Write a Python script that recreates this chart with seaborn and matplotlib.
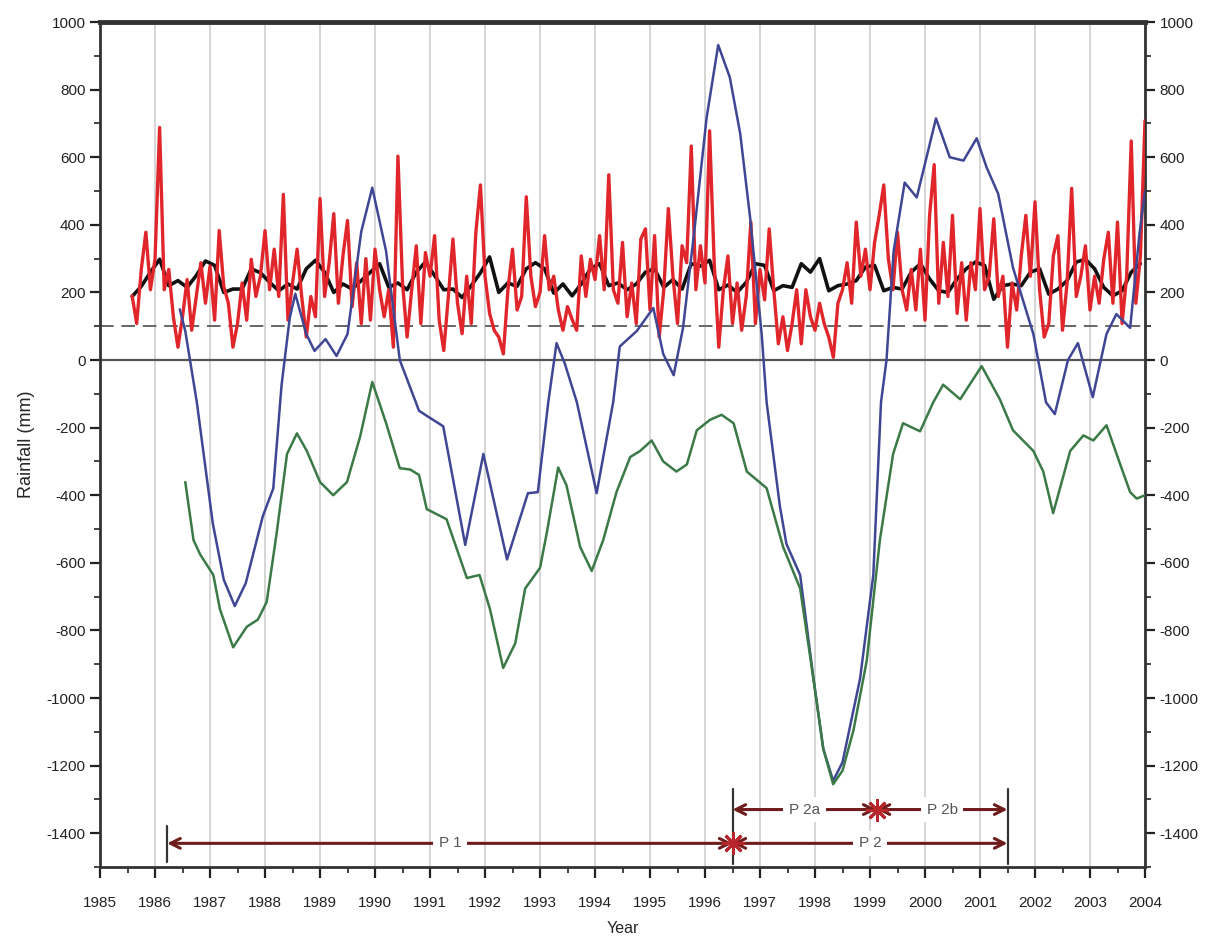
import numpy as np
import pandas as pd
import matplotlib
matplotlib.use("Agg")
import matplotlib.pyplot as plt
from matplotlib.ticker import MultipleLocator
import seaborn as sns

# Monthly rainfall (mm), Aug 1985 - Jan 2004
monthly_rain = [
    190, 108, 268, 378, 208, 298, 688, 208, 268, 128, 38, 128, 238, 88, 188, 288, 168, 278, 118, 383,
    218, 168, 38, 108, 228, 118, 298, 188, 248, 383, 208, 328, 188, 490, 118, 228, 328, 188, 68, 188,
    128, 478, 188, 288, 433, 168, 308, 413, 158, 288, 108,
    300, 118, 328, 208, 128, 208, 38, 603, 228, 68, 208, 338, 108, 318, 248, 368, 118, 28, 188, 358,
    168, 78, 248, 108, 378, 518, 248, 138, 88, 68, 18, 208, 328, 148, 188, 483, 248, 158, 200, 368,
    208, 248, 148, 88, 158, 120, 88, 308, 188, 298, 238, 368, 208, 548, 208, 168, 348, 128,
    228, 108, 358, 388, 148, 368, 68, 208, 448, 248, 108, 338, 288, 633, 208, 338, 228, 678, 288, 38,
    208, 308, 108, 228, 88, 188, 408, 108, 268, 178, 388, 208, 48, 128, 28, 108, 208, 48, 208, 128,
    88, 168, 108, 68, 8, 168, 208, 288, 168, 408, 248, 328, 208, 348, 428, 518,
    300, 208, 378, 208, 148, 268, 148, 328, 118, 428, 578, 168, 348, 188, 428, 138, 288, 118, 288, 208,
    448, 208, 248, 418, 188, 248, 38, 228, 148, 308, 428, 248, 468, 208, 68, 108, 308, 368, 88, 228,
    508, 188, 248, 338, 148, 248, 168, 298, 378, 168, 408, 108, 248, 648, 168, 308, 708,
]

# Mean rainfall (mm), bi-monthly steps from Aug 1985
mean_rain = [
    188, 218, 260, 298, 220, 235, 215, 250, 293, 280, 200, 210, 210, 270, 258, 230, 205, 225, 210, 270,
    295, 260, 200, 225, 210, 235,
    260, 285, 215, 228, 208, 260, 290, 250, 208, 210, 185, 220, 258, 305, 200, 228, 218, 270, 288, 270,
    198, 225, 190, 225, 270, 285, 220, 228, 208,
    225, 260, 270, 215, 238, 210, 285, 278, 295, 208, 222, 200, 230, 285, 280, 205, 220, 215, 285, 260,
    300, 205, 220, 225, 235, 275, 280, 205,
    215, 210, 260, 285, 240, 205, 200, 240, 270, 290, 280, 180, 220, 225, 220, 260, 270, 195, 210, 235,
    290, 298, 270, 215, 190, 205, 260, 285,
]

# Cumulative deviation curves
dev_a_year = [
    1986.45, 1986.55, 1986.76, 1987.05, 1987.25, 1987.45, 1987.65, 1987.96, 1988.15, 1988.30,
    1988.45, 1988.55, 1988.75, 1988.90, 1989.10, 1989.30, 1989.50, 1989.75, 1989.95, 1990.20,
    1990.45, 1990.80, 1990.94, 1991.24, 1991.64, 1991.97, 1992.40, 1992.78, 1992.96, 1993.15,
    1993.30, 1993.45, 1993.67, 1994.03, 1994.33, 1994.45, 1994.76, 1995.06, 1995.24, 1995.43,
    1995.60, 1995.80, 1996.03, 1996.24, 1996.45, 1996.64, 1996.82, 1997.03, 1997.12, 1997.36,
    1997.48, 1997.73, 1997.97, 1998.15, 1998.33, 1998.50, 1998.82, 1999.06, 1999.20, 1999.30,
    1999.43, 1999.63, 1999.85, 2000.20, 2000.45, 2000.70, 2000.94, 2001.12, 2001.33, 2001.60,
    2001.97, 2002.20, 2002.36, 2002.60, 2002.78, 2003.05, 2003.30, 2003.48, 2003.73, 2003.90,
    2004.00,
]
dev_a_val = [
    150, 86, -125, -483, -650, -728, -660, -462, -380, -75,
    125, 196, 77, 27, 62, 12, 77, 380, 510, 323,
    0, -150, -165, -196, -547, -278, -590, -394, -391, -125,
    50, -10, -125, -394, -125, 40, 86, 154, 18, -45,
    95, 374, 718, 932, 837, 670, 421, 77, -125, -431,
    -544, -636, -940, -1150, -1245, -1190, -942, -636, -125, 0,
    323, 525, 481, 715, 600, 590, 656, 570, 492, 273,
    77, -125, -160, 0, 50, -110, 77, 136, 95, 374,
    500,
]

dev_b_year = [
    1986.55, 1986.70, 1986.82, 1987.06, 1987.18, 1987.42, 1987.67, 1987.87, 1988.03, 1988.21,
    1988.40, 1988.58, 1988.76, 1989.00, 1989.24, 1989.49, 1989.73, 1989.95, 1990.20, 1990.45,
    1990.64, 1990.80, 1990.94, 1991.30, 1991.67, 1991.90, 1992.09, 1992.33, 1992.55, 1992.73,
    1993.00, 1993.12, 1993.33, 1993.48, 1993.73, 1993.94, 1994.15, 1994.39, 1994.64, 1994.82,
    1995.03, 1995.24, 1995.48, 1995.67, 1995.85, 1996.09, 1996.30, 1996.52, 1996.76, 1997.12,
    1997.42, 1997.73, 1997.97, 1998.15, 1998.33, 1998.50, 1998.70, 1998.94, 1999.18, 1999.42,
    1999.60, 1999.91, 2000.15, 2000.33, 2000.64, 2001.03, 2001.36, 2001.60, 2001.97, 2002.15,
    2002.33, 2002.64, 2002.88, 2003.06, 2003.30, 2003.55, 2003.73, 2003.85, 2004.00,
]
dev_b_val = [
    -361, -533, -575, -636, -737, -850, -789, -768, -716, -514,
    -278, -217, -269, -361, -400, -361, -226, -65, -186, -320,
    -324, -340, -441, -471, -645, -636, -737, -911, -838, -676,
    -615, -514, -318, -370, -553, -624, -532, -391, -287, -269,
    -238, -300, -330, -309, -208, -177, -162, -187, -330, -379,
    -553, -676, -942, -1150, -1255, -1215, -1095, -890, -532, -278,
    -187, -211, -125, -73, -116, -18, -116, -208, -269, -330,
    -453, -269, -223, -238, -193, -309, -391, -410, -400,
]

# Periods marked along the bottom
period_labels = ["P 1", "P 2", "P 2a", "P 2b"]
period_start = [1986.22, 1996.50, 1996.50, 1999.12]
period_end = [1996.50, 2001.50, 1999.12, 2001.50]
period_level = [-1430, -1430, -1330, -1330]


def decimal_year(dates):
    return dates.year + (dates.month - 1) / 12.0


monthly_df = pd.DataFrame({
    "year": decimal_year(pd.date_range("1985-08-01", periods=len(monthly_rain), freq="MS")),
    "rain": monthly_rain,
})
mean_df = pd.DataFrame({
    "year": decimal_year(pd.date_range("1985-08-01", periods=len(mean_rain), freq="2MS")),
    "rain": mean_rain,
})
dev_a_df = pd.DataFrame({"year": dev_a_year, "rain": dev_a_val})
dev_b_df = pd.DataFrame({"year": dev_b_year, "rain": dev_b_val})

sns.set_style("ticks")
plt.rcParams["font.family"] = ["Liberation Sans", "DejaVu Sans"]
plt.rcParams["axes.unicode_minus"] = False

fig = plt.figure(figsize=(12.11, 9.46), dpi=100)
ax = fig.add_axes([0.0826, 0.0835, 0.8629, 0.8932])

ax.axhline(0, color="#555555", lw=1.6, zorder=2)
ax.axhline(100, color="#666666", lw=1.4, ls=(0, (7, 4)), zorder=2)

sns.lineplot(data=mean_df, x="year", y="rain", ax=ax, color="#111111", lw=2.6,
             estimator=None, sort=False, zorder=3)
sns.lineplot(data=monthly_df, x="year", y="rain", ax=ax, color="#e0262b", lw=2.4,
             estimator=None, sort=False, zorder=4)
sns.lineplot(data=dev_a_df, x="year", y="rain", ax=ax, color="#3f4794", lw=1.8,
             estimator=None, sort=False, zorder=5)
sns.lineplot(data=dev_b_df, x="year", y="rain", ax=ax, color="#3b7a46", lw=1.8,
             estimator=None, sort=False, zorder=5)

# Period arrows
arrow_col = "#6e1c1c"
for lab, x0, x1, y in zip(period_labels, period_start, period_end, period_level):
    ax.annotate("", xy=(x0, y), xytext=(x1, y),
                arrowprops=dict(arrowstyle="<->,head_length=0.7,head_width=0.35",
                                color=arrow_col, lw=2.2, shrinkA=0, shrinkB=0),
                zorder=6)
    ax.text((x0 + x1) / 2, y, lab, ha="center", va="center", fontsize=11,
            color="#555555", zorder=7,
            bbox=dict(facecolor="white", edgecolor="none", pad=4))

# End bars and junction stars
ax.plot([period_start[0], period_start[0]], [-1485, -1380], color="#333333", lw=1.6, zorder=7)
ax.plot([period_end[0], period_end[0]], [-1490, -1270], color="#333333", lw=1.6, zorder=7)
ax.plot([period_end[1], period_end[1]], [-1490, -1270], color="#333333", lw=1.6, zorder=7)
ax.plot([period_start[3]], [period_level[3]], marker=(8, 2, 0), ms=16, mew=2.0,
        color="#b8262c", zorder=8, ls="none")
ax.plot([period_end[0]], [period_level[0]], marker=(8, 2, 0), ms=16, mew=2.0,
        color="#b8262c", zorder=8, ls="none")

ax.set_xlim(1985, 2004)
ax.set_ylim(-1500, 1000)
ax.xaxis.set_major_locator(MultipleLocator(1))
ax.xaxis.set_minor_locator(MultipleLocator(0.5))
ax.yaxis.set_major_locator(MultipleLocator(200))
ax.yaxis.set_minor_locator(MultipleLocator(100))
ax.set_xticks(range(1985, 2005))
ax.set_xticklabels([str(y) for y in range(1985, 2005)])

ax.grid(axis="x", which="major", color="#d2d2d2", lw=1.3)
ax.set_axisbelow(True)

ax.tick_params(which="both", direction="out", right=True, labelright=True,
               colors="#222222", labelsize=11)
ax.tick_params(which="major", length=7, width=1.6)
ax.tick_params(which="minor", length=4, width=1.2)
ax.tick_params(axis="x", which="major", length=8, pad=13)

for side in ["left", "right", "bottom"]:
    ax.spines[side].set_linewidth(2)
    ax.spines[side].set_color("#333333")
ax.spines["top"].set_linewidth(3.5)
ax.spines["top"].set_color("#333333")

ax.set_xlabel("Year", fontsize=11.5, labelpad=8)
ax.set_ylabel("Rainfall (mm)", fontsize=13, labelpad=8)

fig.savefig("out.png", dpi=100)
